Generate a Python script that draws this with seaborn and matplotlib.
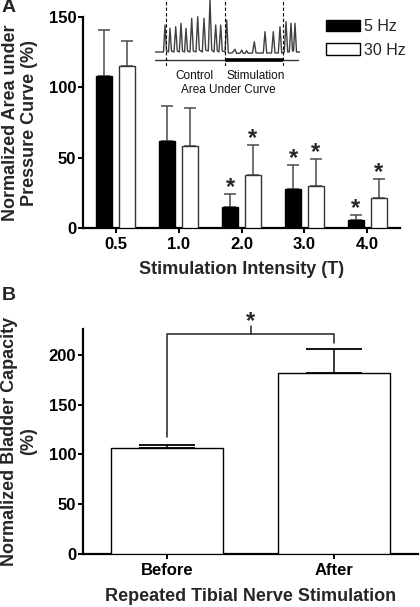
import pandas as pd
import matplotlib
matplotlib.use("Agg")
import matplotlib.pyplot as plt
import seaborn as sns

# Panel A data
intensity = ['0.5', '1.0', '2.0', '3.0', '4.0']
mean_5hz = [108, 62, 15, 28, 6]
err_5hz = [33, 25, 9, 17, 3.5]
mean_30hz = [115, 58.5, 37.5, 30, 21.5]
err_30hz = [18, 27, 21.7, 19, 13.2]
sig_5hz = [False, False, True, True, True]
sig_30hz = [False, False, True, True, True]

# Panel B data
conditions = ['Before', 'After']
capacity = [106, 182]
capacity_err = [3, 24]

# inset pressure trace (illustration)
trace_x = [0, 8.5, 10, 11.5, 13.5, 15, 16.5, 19, 20.7, 22.3, 24.3, 26, 27.5, 29.5, 31, 32.5,
           35, 36.7, 38.3, 41, 42.7, 44.3, 47.3, 49, 50.7, 53.3, 55, 56.7, 59, 60.7, 62.3,
           64, 65.7, 67.3, 70, 71.7, 73.3, 77, 80, 81.5, 85, 86.7, 88.3, 90.2, 91.7, 93.2,
           97.5, 99.3, 101, 108.3, 110, 111.7, 116.6, 118.3, 120, 123.3, 125, 126.7, 129.3,
           131, 132.7, 134.3, 136, 137.5, 138.5, 140, 141.5, 145]
trace_p = [14, 14, 41, 15, 14, 37.7, 15, 14, 39.3, 15, 14, 42.7, 15, 14, 37.7, 15,
           14, 47.7, 15, 14, 49.3, 16, 14, 47.7, 16, 15, 66, 16, 14, 41, 15,
           14, 41, 15, 14, 46, 13, 13, 16.7, 12.7, 12.7, 16, 12.7, 12.7, 15.3, 12.7,
           13, 24.3, 13, 13, 34.3, 13, 13, 34.3, 13, 13, 39.3, 13, 14,
           44.3, 14, 14, 42.7, 15, 15, 42.7, 14, 14]
stim_start, stim_end, trace_mark = 70, 128, 11

sns.set_style('ticks')
plt.rcParams['font.family'] = ['Liberation Sans', 'DejaVu Sans']
plt.rcParams['font.weight'] = 'bold'

W, H = 420, 607
fig = plt.figure(figsize=(W / 100, H / 100), dpi=100)


def px_axes(l, t, r, b):
    return fig.add_axes([l / W, 1 - b / H, (r - l) / W, (b - t) / H])


def style_axes(ax, size):
    sns.despine(ax=ax)
    for s in ['left', 'bottom']:
        ax.spines[s].set_linewidth(1.6)
        ax.spines[s].set_color('black')
    ax.tick_params(axis='both', width=1.4, length=3.8, color='black',
                   labelsize=size, labelcolor='black')
    ax.tick_params(axis='y', pad=1)
    ax.tick_params(axis='x', pad=3)
    for lab in ax.get_xticklabels() + ax.get_yticklabels():
        lab.set_fontweight('bold')


# ---------------- Panel A ----------------
axA = px_axes(83, 17, 400, 228)
dfA = pd.DataFrame({
    'intensity': intensity * 2,
    'value': mean_5hz + mean_30hz,
    'freq': ['5 Hz'] * len(intensity) + ['30 Hz'] * len(intensity),
})
sns.barplot(data=dfA, x='intensity', y='value', hue='freq', order=intensity,
            hue_order=['5 Hz', '30 Hz'], palette=['black', 'white'],
            width=0.72, gap=0.3, errorbar=None, ax=axA, zorder=3)

errs = [err_5hz, err_30hz]
means = [mean_5hz, mean_30hz]
sigs = [sig_5hz, sig_30hz]
edge = ['black', '#333333']
bar_conts = list(axA.containers)
for k, cont in enumerate(bar_conts):
    xs = []
    for p in cont.patches:
        p.set_edgecolor(edge[k])
        p.set_linewidth(1)
        xs.append(p.get_x() + p.get_width() / 2)
    axA.errorbar(xs, means[k], yerr=[[0] * len(xs), errs[k]], fmt='none',
                 ecolor='#4a4a4a', elinewidth=1.1, capsize=4, capthick=1.1, zorder=2)
    for x, m, e, s in zip(xs, means[k], errs[k], sigs[k]):
        if s:
            axA.text(x, m + e - 3.5, '*', ha='center', va='bottom', fontsize=17,
                     fontweight='bold')

axA.set_ylim(0, 150)
axA.set_xlim(-0.52, 4.52)
axA.set_yticks([0, 50, 100, 150])
axA.set_xlabel('Stimulation Intensity (T)', fontsize=13, fontweight='bold', va='center')
axA.xaxis.set_label_coords(0.5, -0.199)
axA.set_ylabel('Normalized Area under\nPressure Curve (%)', fontsize=13,
               fontweight='bold', va='center', linespacing=1.15)
axA.yaxis.set_label_coords(-0.199, 0.5)
style_axes(axA, 12)

handles, labels = axA.get_legend_handles_labels()
axA.get_legend().remove()
for h in handles:
    h.set_edgecolor('black')
fig.legend(handles, labels, loc='upper left', bbox_to_anchor=(326 / W, 1 - 19 / H),
           frameon=False, handlelength=2.1, handleheight=0.75, handletextpad=0.25,
           labelspacing=0.55, borderaxespad=0, borderpad=0,
           prop={'family': 'Liberation Sans', 'weight': 'normal', 'size': 11.5})

# inset trace
axI = px_axes(155, 0, 300, 66)
axI.plot(trace_x, trace_p, color='#404040', lw=1.0)
axI.plot([0, 143], [6, 6], color='#333333', lw=1.0)
axI.plot([stim_start, stim_end], [6.2, 6.2], color='black', lw=2.6, solid_capstyle='butt')
for xm in [trace_mark, stim_start, stim_end]:
    axI.plot([xm, xm], [0, 66], color='black', lw=0.8, ls=(0, (3, 2)))
axI.set_xlim(0, 145)
axI.set_ylim(0, 66)
axI.axis('off')

txt = dict(fontsize=8.5, fontweight='normal', ha='center', va='center', color='#111111')
fig.text(194 / W, 1 - 76 / H, 'Control', **txt)
fig.text(256 / W, 1 - 76 / H, 'Stimulation', **txt)
fig.text(228 / W, 1 - 90 / H, 'Area Under Curve', **txt)

# ---------------- Panel B ----------------
axB = px_axes(83, 329, 418, 554)
dfB = pd.DataFrame({'condition': conditions, 'capacity': capacity})
sns.barplot(data=dfB, x='condition', y='capacity', order=conditions, color='white',
            width=0.67, errorbar=None, ax=axB, edgecolor='black', linewidth=1, zorder=3)
xsB = [p.get_x() + p.get_width() / 2 for p in axB.containers[0].patches]
eb = axB.errorbar(xsB, capacity, yerr=[[0, 0], capacity_err], fmt='none', ecolor='black',
                  elinewidth=1.1, capsize=20.5, capthick=1.3, zorder=2)
for cap in eb[1]:
    cap.set_color('#707070')
# significance bracket
ytop = 221
axB.plot([xsB[0], xsB[0], xsB[1], xsB[1]], [118, ytop, ytop, 212], color='#222222',
         lw=1.1, clip_on=False)
axB.plot([0.5, 0.5], [ytop, 229], color='#222222', lw=1.1, clip_on=False)
axB.text(0.5, 222, '*', ha='center', va='bottom', fontsize=17, fontweight='bold')

axB.set_ylim(0, 226)
axB.set_xlim(-0.5, 1.5)
axB.set_yticks([0, 50, 100, 150, 200])
axB.set_xlabel('Repeated Tibial Nerve Stimulation', fontsize=13, fontweight='bold',
               va='center')
axB.xaxis.set_label_coords(0.5, -0.187)
axB.set_ylabel('Normalized Bladder Capacity\n(%)', fontsize=13, fontweight='bold',
               va='center', linespacing=1.15)
axB.yaxis.set_label_coords(-0.191, 0.5)
style_axes(axB, 12)

fig.text(2 / W, 1 - 7 / H, 'A', fontsize=14, fontweight='bold', va='center')
fig.text(2 / W, 1 - 296 / H, 'B', fontsize=14, fontweight='bold', va='center')

fig.savefig('out.png', dpi=100)
